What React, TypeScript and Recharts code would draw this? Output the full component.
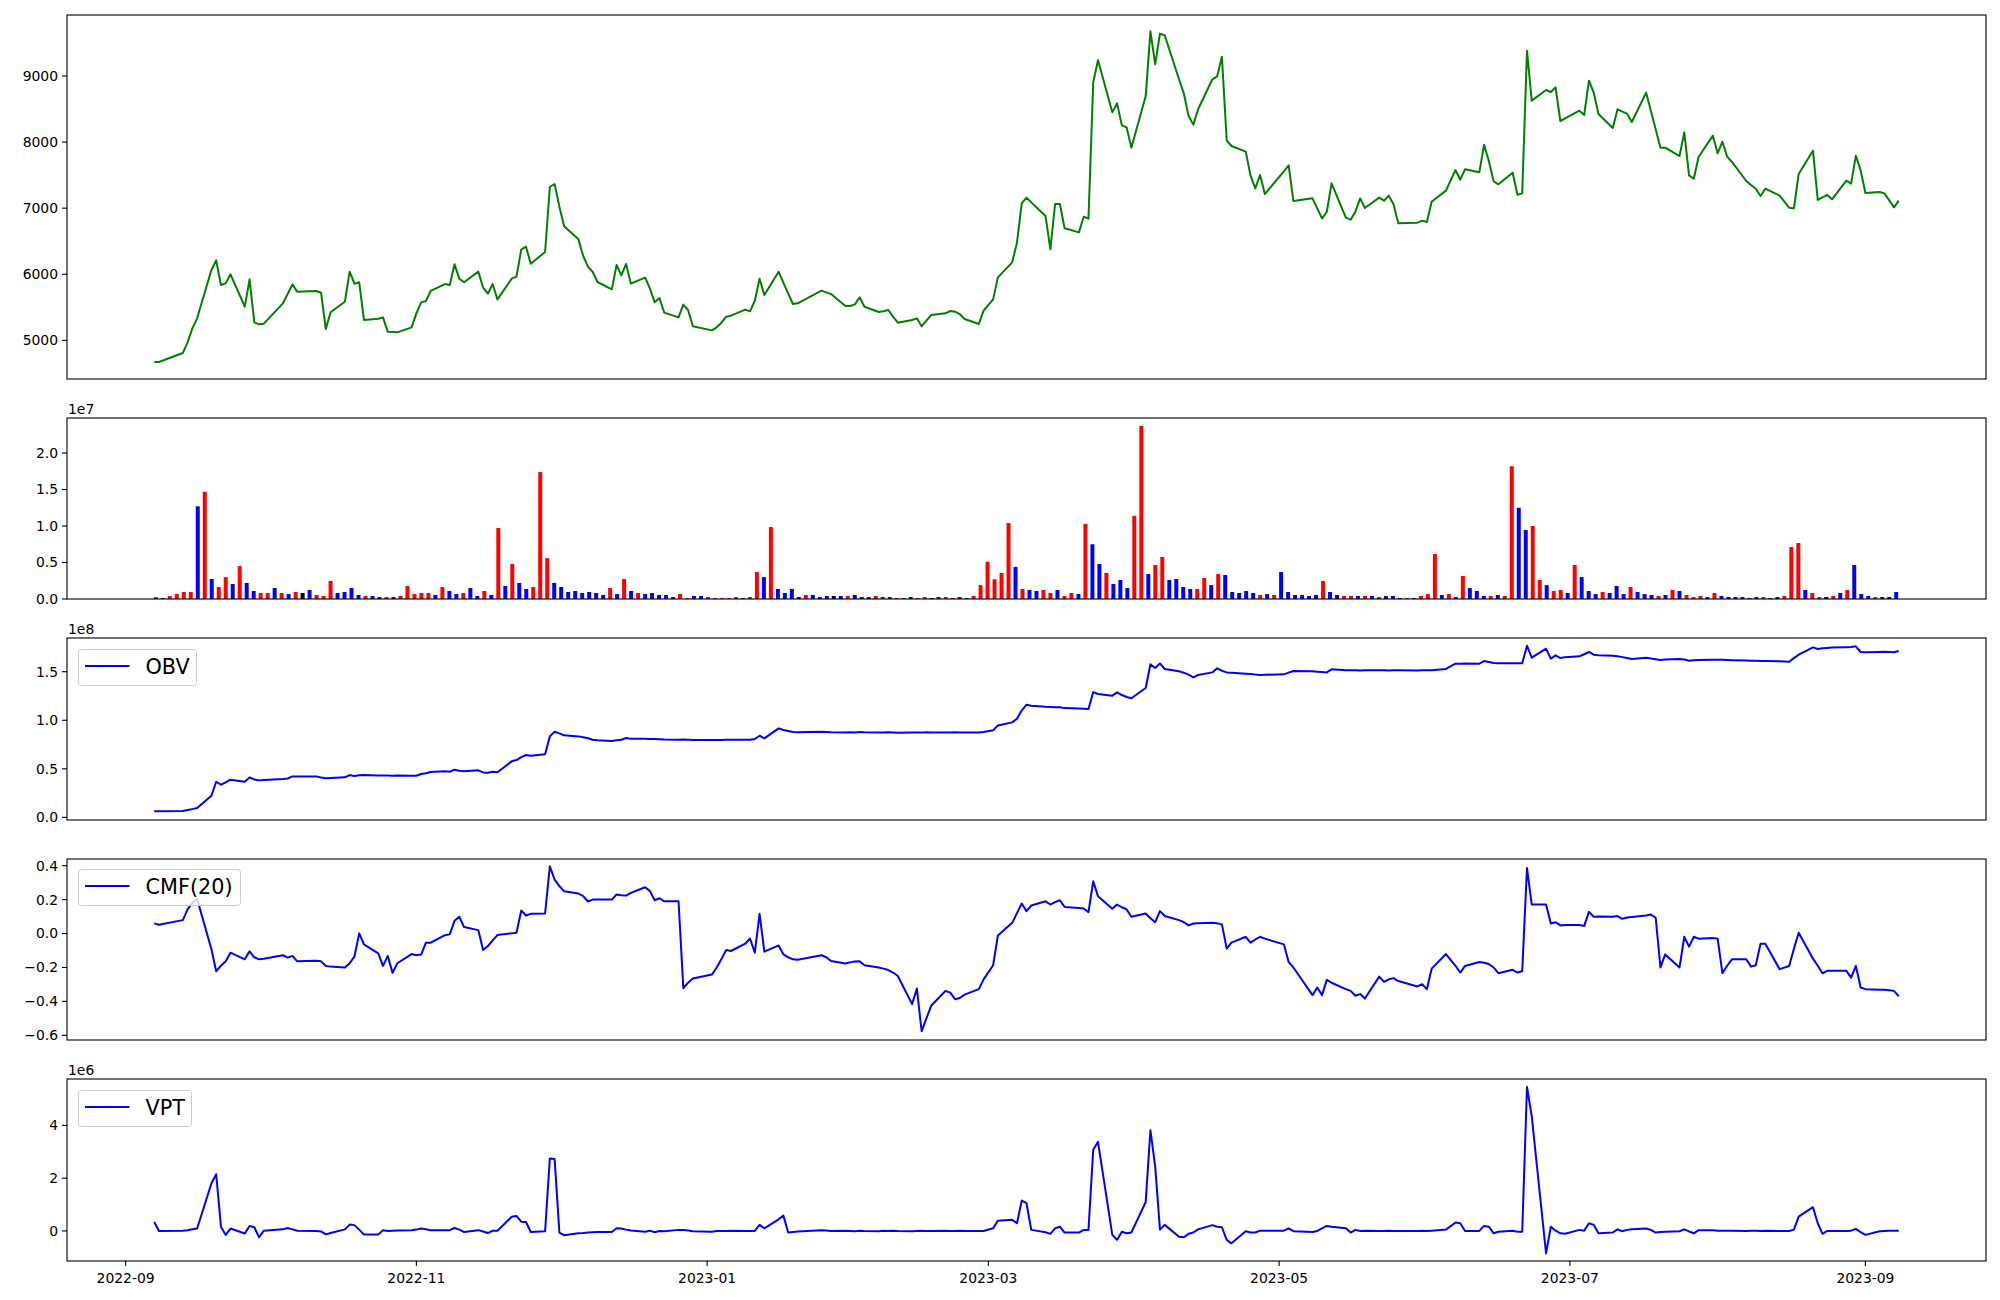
import React from 'react';
import { LineChart, Line, BarChart, Bar, Cell, XAxis, YAxis } from 'recharts';

// KRX trading calendar for the period shown
const START = '2022-09-07';
const END = '2023-09-08';
const HOLIDAYS = [
  '2022-09-09', '2022-09-12', '2022-10-03', '2022-10-10', '2022-12-30',
  '2023-01-23', '2023-01-24', '2023-03-01', '2023-05-01', '2023-05-05',
  '2023-05-29', '2023-06-06', '2023-08-15',
];

const price = [
  4672, 4672, 4808, 4970, 5182, 5333, 6064, 6210, 5837, 5862,
  5999, 5509, 5923, 5272, 5242, 5252, 5560, 5700, 5847, 5736,
  5747, 5721, 5171, 5424, 5585, 6039, 5857, 5878, 5308, 5328,
  5348, 5131, 5126, 5121, 5197, 5409, 5575, 5595, 5747, 5852,
  5837, 6150, 5933, 5878, 6039, 5797, 5706, 5852, 5620, 5933,
  5963, 6372, 6417, 6160, 6337, 7320, 7366, 7023, 6725, 6528,
  6276, 6115, 6034, 5883, 5772, 6140, 5984, 6155, 5858, 5948,
  5782, 5575, 5641, 5419, 5348, 5540, 5459, 5212, 5151, 5197,
  5267, 5358, 5373, 5464, 5439, 5600, 5933, 5686, 6039, 5870,
  5710, 5550, 5560, 5752, 5726, 5700, 5520, 5520, 5545, 5651,
  5509, 5429, 5439, 5459, 5358, 5267, 5308, 5333, 5212, 5298,
  5383, 5409, 5444, 5434, 5398, 5323, 5247, 5449, 5620, 5953,
  6180, 6478, 7073, 7159, 7088, 6881, 6377, 7063, 7063, 6695,
  6634, 6871, 6841, 8904, 9237, 8450, 8586, 8253, 8223, 7915,
  8692, 9676, 9176, 9640, 9615, 8950, 8738, 8395, 8264, 8496,
  8950, 8995, 9292, 8026, 7941, 7855, 7492, 7300, 7502, 7214,
  7557, 7648, 7108, 7149, 6997, 6846, 6942, 7376, 6856, 6826,
  6947, 7149, 7002, 7159, 7113, 7189, 7058, 6770, 6781, 6811,
  6791, 7098, 7265, 7577, 7431, 7588, 7542, 7961, 7714, 7406,
  7361, 7537, 7204, 7224, 9383, 8627, 8788, 8758, 8829, 8319,
  8359, 8475, 8410, 8929, 8748, 8425, 8213, 8496, 8460, 8430,
  8304, 8748, 8470, 8193, 7915, 7915, 7789, 8147, 7497, 7446,
  7774, 8097, 7830, 8006, 7779, 7699, 7411, 7351, 7295, 7184,
  7295, 7189, 7008, 6997, 7517, 7870, 7124, 7164, 7199, 7134,
  7416, 7371, 7794, 7572, 7229, 7245, 7224, 7118, 7013, 7113,
];

// volume in millions of shares
const volume = [
  0.23, 0.14, 0.4, 0.7, 0.96, 0.96, 12.7, 14.7, 2.74, 1.64,
  3.0, 2.05, 4.5, 2.2, 1.1, 0.82, 0.82, 1.5, 0.82, 0.68,
  0.96, 0.82, 1.23, 0.55, 0.41, 2.47, 0.82, 0.96, 1.5, 0.55,
  0.41, 0.41, 0.27, 0.27, 0.27, 0.41, 1.78, 0.68, 0.82, 0.82,
  0.55, 1.64, 1.1, 0.68, 0.82, 1.5, 0.41, 1.1, 0.55, 9.73,
  1.78, 4.8, 2.2, 1.37, 1.64, 17.4, 5.6, 2.2, 1.64, 0.96,
  1.1, 0.82, 0.96, 0.82, 0.55, 1.5, 0.68, 2.74, 1.1, 0.82,
  0.68, 0.82, 0.55, 0.55, 0.27, 0.68, 0.14, 0.41, 0.41, 0.27,
  0.14, 0.14, 0.14, 0.27, 0.14, 0.27, 3.7, 3.0, 9.86, 1.37,
  0.82, 1.37, 0.27, 0.55, 0.55, 0.27, 0.41, 0.41, 0.41, 0.41,
  0.55, 0.27, 0.27, 0.41, 0.27, 0.27, 0.14, 0.14, 0.27, 0.14,
  0.27, 0.14, 0.27, 0.27, 0.14, 0.27, 0.14, 0.41, 1.9, 5.1,
  2.7, 3.56, 10.4, 4.4, 1.37, 1.23, 1.1, 1.23, 0.82, 1.23,
  0.41, 0.82, 0.68, 10.3, 7.5, 4.8, 3.56, 2.05, 2.6, 1.5,
  11.4, 23.7, 3.42, 4.66, 5.75, 2.6, 2.74, 1.64, 1.37, 1.37,
  2.88, 1.9, 3.42, 3.29, 0.96, 0.82, 1.1, 0.82, 0.55, 0.68,
  0.55, 3.7, 0.96, 0.55, 0.55, 0.41, 0.55, 2.47, 0.96, 0.55,
  0.41, 0.41, 0.41, 0.41, 0.41, 0.27, 0.41, 0.41, 0.14, 0.14,
  0.14, 0.41, 0.68, 6.16, 0.55, 0.68, 0.27, 3.15, 1.5, 1.1,
  0.41, 0.41, 0.55, 0.41, 18.2, 12.5, 9.45, 10.0, 2.6, 1.9,
  1.1, 1.23, 0.82, 4.66, 3.0, 1.1, 0.68, 0.96, 0.82, 1.78,
  0.68, 1.64, 0.96, 0.68, 0.55, 0.41, 0.55, 1.23, 1.1, 0.55,
  0.27, 0.41, 0.27, 0.82, 0.41, 0.27, 0.27, 0.27, 0.14, 0.27,
  0.27, 0.14, 0.27, 0.41, 7.12, 7.67, 1.23, 0.82, 0.27, 0.27,
  0.41, 0.82, 1.23, 4.66, 0.68, 0.41, 0.27, 0.27, 0.27, 0.96,
];

// r = up day, b = down day, k = unchanged
const volColors = [
  'bbrrrrbrbr', 'rbrbbrrbrb', 'rkbrrrbbbb', 'rbbrbrrrrr', 'brbbrbbrbr',
  'brbbrrrbbb', 'bbbbbrbrbr', 'bbbbbrrbbr', 'rrrrbrrbrb', 'bbbrbbbkbr',
  'bbbrbbrbbr', 'rkbrbbbrrr', 'rrrbrbbrrb', 'rrbrbbrbbb', 'rrbrrbbbbr',
  'rbrbbbbbrb', 'rbbbbbbrbb', 'rrbrbrbbbr', 'brrrbrbrbb', 'brbrrbbrrb',
  'rrbrbbbrbb', 'brbbbrbrbr', 'rrbrbbbbbb', 'rbbrrrbrrk', 'rbrbbbrbbb',
].join('');

// on-balance volume, 1e8
const obv = [
  0.062, 0.063, 0.065, 0.075, 0.085, 0.096, 0.223, 0.367, 0.336, 0.36,
  0.388, 0.367, 0.412, 0.39, 0.381, 0.385, 0.395, 0.40, 0.422, 0.42,
  0.422, 0.41, 0.402, 0.405, 0.412, 0.436, 0.425, 0.433, 0.436, 0.43,
  0.432, 0.43, 0.428, 0.43, 0.428, 0.429, 0.447, 0.454, 0.467, 0.475,
  0.47, 0.491, 0.48, 0.474, 0.484, 0.463, 0.459, 0.47, 0.465, 0.577,
  0.59, 0.62, 0.642, 0.635, 0.649, 0.834, 0.882, 0.865, 0.845, 0.834,
  0.825, 0.815, 0.80, 0.795, 0.786, 0.795, 0.80, 0.817, 0.81, 0.81,
  0.808, 0.807, 0.805, 0.802, 0.80, 0.802, 0.80, 0.798, 0.796, 0.797,
  0.798, 0.80, 0.80, 0.80, 0.80, 0.807, 0.841, 0.814, 0.917, 0.90,
  0.89, 0.879, 0.876, 0.882, 0.88, 0.877, 0.875, 0.876, 0.874, 0.878,
  0.876, 0.874, 0.873, 0.876, 0.874, 0.872, 0.874, 0.873, 0.875, 0.876,
  0.874, 0.875, 0.873, 0.876, 0.875, 0.873, 0.875, 0.879, 0.896, 0.947,
  0.978, 1.016, 1.10, 1.16, 1.15, 1.138, 1.136, 1.135, 1.133, 1.125,
  1.12, 1.119, 1.115, 1.29, 1.27, 1.253, 1.287, 1.26, 1.24, 1.226,
  1.332, 1.576, 1.538, 1.586, 1.528, 1.504, 1.49, 1.47, 1.442, 1.466,
  1.493, 1.535, 1.51, 1.493, 1.49, 1.48, 1.476, 1.47, 1.466, 1.468,
  1.473, 1.49, 1.507, 1.504, 1.50, 1.497, 1.493, 1.524, 1.516, 1.514,
  1.515, 1.513, 1.514, 1.516, 1.514, 1.513, 1.515, 1.514, 1.513, 1.514,
  1.515, 1.514, 1.528, 1.583, 1.583, 1.585, 1.583, 1.61, 1.60, 1.59,
  1.586, 1.588, 1.586, 1.586, 1.768, 1.644, 1.737, 1.634, 1.668, 1.641,
  1.65, 1.658, 1.68, 1.703, 1.675, 1.67, 1.665, 1.66, 1.65, 1.64,
  1.631, 1.644, 1.635, 1.628, 1.62, 1.625, 1.631, 1.625, 1.613, 1.618,
  1.62, 1.624, 1.624, 1.622, 1.62, 1.618, 1.615, 1.613, 1.612, 1.61,
  1.61, 1.607, 1.603, 1.64, 1.675, 1.751, 1.734, 1.742, 1.745, 1.748,
  1.752, 1.754, 1.761, 1.703, 1.70, 1.703, 1.705, 1.703, 1.70, 1.713,
];

const cmf = [
  0.06, 0.052, 0.079, 0.142, 0.181, 0.204, -0.093, -0.222, -0.19, -0.164,
  -0.113, -0.152, -0.105, -0.14, -0.152, -0.148, -0.128, -0.142, -0.132, -0.164,
  -0.16, -0.164, -0.191, -0.195, -0.20, -0.175, -0.136, 0.001, -0.064, -0.117,
  -0.191, -0.132, -0.232, -0.175, -0.121, -0.128, -0.124, -0.054, -0.054, -0.01,
  -0.005, 0.075, 0.099, 0.038, 0.02, -0.097, -0.074, -0.04, -0.009, 0.001,
  0.005, 0.136, 0.106, 0.116, 0.118, 0.396, 0.318, 0.28, 0.249, 0.236,
  0.22, 0.189, 0.20, 0.20, 0.20, 0.23, 0.226, 0.224, 0.24, 0.273,
  0.25, 0.196, 0.208, 0.19, 0.19, -0.322, -0.29, -0.265, -0.242, -0.2,
  -0.15, -0.097, -0.103, -0.06, -0.029, -0.113, 0.116, -0.107, -0.07, -0.123,
  -0.14, -0.152, -0.155, -0.128, -0.14, -0.162, -0.177, -0.17, -0.165, -0.164,
  -0.187, -0.2, -0.207, -0.215, -0.23, -0.25, -0.416, -0.324, -0.576, -0.5,
  -0.426, -0.338, -0.348, -0.387, -0.38, -0.36, -0.328, -0.27, -0.187, -0.011,
  0.063, 0.12, 0.177, 0.132, 0.165, 0.19, 0.171, 0.185, 0.196, 0.157,
  0.15, 0.148, 0.126, 0.308, 0.22, 0.146, 0.171, 0.155, 0.142, 0.099,
  0.118, 0.09, 0.067, 0.132, 0.103, 0.079, 0.067, 0.048, 0.059, 0.06,
  0.063, 0.06, 0.054, -0.089, -0.054, -0.019, -0.054, -0.035, -0.019, -0.03,
  -0.064, -0.168, -0.2, -0.363, -0.318, -0.363, -0.273, -0.29, -0.328, -0.338,
  -0.367, -0.357, -0.383, -0.254, -0.285, -0.27, -0.263, -0.28, -0.312, -0.299,
  -0.328, -0.207, -0.121, -0.19, -0.23, -0.191, -0.168, -0.172, -0.18, -0.2,
  -0.234, -0.214, -0.23, -0.222, 0.386, 0.171, 0.171, 0.059, 0.067, 0.048,
  0.05, 0.05, 0.045, 0.128, 0.099, 0.1, 0.099, 0.103, 0.087, 0.095,
  0.098, 0.106, 0.112, 0.093, -0.20, -0.123, -0.20, -0.019, -0.077, -0.019,
  -0.03, -0.027, -0.03, -0.234, -0.19, -0.152, -0.152, -0.195, -0.187, -0.06,
  -0.06, -0.21, -0.191, -0.09, 0.005, -0.148, -0.19, -0.234, -0.22, -0.22,
  -0.22, -0.26, -0.191, -0.318, -0.328, -0.332, -0.332, -0.335, -0.338, -0.371,
];

// volume price trend, 1e6
const vpt = [
  0.34, 0.0, 0.01, 0.03, 0.06, 0.09, 1.81, 2.15, 0.16, -0.15,
  0.09, -0.1, 0.19, 0.14, -0.24, 0.01, 0.06, 0.11, 0.06, 0.01,
  0.0, -0.02, -0.13, -0.08, 0.06, 0.24, 0.22, 0.05, -0.14, -0.14,
  0.03, 0.0, 0.01, 0.02, 0.03, 0.05, 0.09, 0.06, 0.03, 0.03,
  0.03, 0.11, 0.05, -0.04, 0.03, -0.02, -0.08, 0.01, 0.01, 0.54,
  0.57, 0.35, 0.34, -0.04, -0.01, 2.75, 2.73, -0.06, -0.16, -0.09,
  -0.08, -0.06, -0.05, -0.04, -0.04, 0.1, 0.09, 0.05, 0.02, -0.03,
  0.01, -0.05, 0.0, -0.01, 0.04, 0.04, 0.02, -0.01, -0.03, 0.0,
  0.0, 0.0, 0.01, 0.0, 0.0, 0.0, 0.23, 0.1, 0.44, 0.58,
  -0.06, -0.04, -0.02, 0.03, 0.02, 0.0, 0.01, 0.0, -0.01, 0.01,
  0.0, -0.01, 0.01, 0.0, 0.01, 0.0, -0.01, 0.0, 0.01, 0.0,
  0.0, 0.01, 0.0, 0.0, 0.01, 0.0, 0.0, 0.0, 0.1, 0.39,
  0.42, 0.29, 1.15, 1.05, 0.04, -0.05, -0.11, 0.1, 0.16, -0.06,
  -0.06, 0.04, 0.04, 3.08, 3.38, -0.15, -0.34, -0.03, -0.09, -0.06,
  1.09, 3.82, 2.44, 0.05, 0.23, -0.22, -0.24, -0.11, -0.06, 0.06,
  0.22, 0.16, 0.14, -0.34, -0.47, -0.01, -0.06, -0.06, 0.01, 0.01,
  0.01, 0.1, -0.01, -0.04, 0.0, 0.1, 0.19, 0.16, 0.1, -0.06,
  0.04, 0.0, 0.01, 0.0, 0.0, 0.01, 0.0, 0.0, 0.0, 0.01,
  0.0, 0.01, 0.05, 0.32, 0.29, 0.0, 0.0, 0.19, 0.16, -0.09,
  -0.03, 0.01, -0.03, -0.03, 5.46, 4.34, -0.85, 0.16, 0.01, -0.09,
  -0.11, 0.04, 0.01, 0.29, 0.23, -0.09, -0.06, 0.06, -0.01, 0.04,
  0.06, 0.09, 0.04, -0.06, -0.04, -0.03, -0.01, 0.06, -0.02, -0.09,
  0.03, 0.03, 0.01, 0.01, 0.01, 0.01, 0.0, 0.01, 0.01, 0.0,
  0.01, 0.0, 0.0, 0.05, 0.54, 0.9, 0.29, -0.11, 0.0, 0.0,
  0.0, 0.01, 0.08, -0.05, -0.15, -0.01, 0.0, 0.01, 0.01, 0.01,
];

const xTickDates = ['2022-09-01', '2022-11-01', '2023-01-01', '2023-03-01', '2023-05-01', '2023-07-01', '2023-09-01'];
const priceTicks = [5000, 6000, 7000, 8000, 9000];
const volTicks = [0, 5, 10, 15, 20];
const obvTicks = [0, 0.5, 1, 1.5];
const cmfTicks = [-0.6, -0.4, -0.2, 0, 0.2, 0.4];
const vptTicks = [0, 2, 4];

const DAY = 86400000;
const toT = (s: string) => (Date.parse(s) - Date.parse(START)) / DAY;

const tradingDays: string[] = [];
for (let ms = Date.parse(START); ms <= Date.parse(END); ms += DAY) {
  const d = new Date(ms);
  const iso = d.toISOString().slice(0, 10);
  const wd = d.getUTCDay();
  if (wd === 0 || wd === 6 || HOLIDAYS.includes(iso)) continue;
  tradingDays.push(iso);
}

const rows = tradingDays.map((date, i) => ({
  i,
  t: toT(date),
  price: price[i],
  vol: volume[i],
  obv: obv[i],
  cmf: cmf[i],
  vpt: vpt[i],
}));

const VOL_FILL: Record<string, string> = { r: '#ff0000', b: '#0000ff', k: '#000000' };
const FONT = 'DejaVu Sans';
const tickStyle = { fill: '#000', fontSize: 13.9, fontFamily: FONT };
const T_SPAN = toT(END);
const X_DOMAIN = [-0.05 * T_SPAN, 1.05 * T_SPAN];
const N = tradingDays.length;
const I_DOMAIN = [-0.3 - 0.05 * (N - 0.4), N - 0.7 + 0.05 * (N - 0.4)];
const minus = (v: number, digits: number) => (v < 0 ? '\u2212' : '') + Math.abs(v).toFixed(digits);
const fmtMonth = (t: number) => new Date(Date.parse(START) + t * DAY).toISOString().slice(0, 7);

const yAxisProps = {
  width: 67,
  axisLine: false,
  tickLine: { stroke: '#000', strokeWidth: 1.1 },
  tickSize: 5,
  tickMargin: 4,
  tick: tickStyle,
  interval: 0 as const,
  allowDataOverflow: true,
  type: 'number' as const,
};

const lineProps = {
  dot: false,
  type: 'linear' as const,
  strokeWidth: 2,
  strokeLinejoin: 'round' as const,
  isAnimationActive: false,
};

const frames = [
  { top: 15, h: 364 },
  { top: 418, h: 181 },
  { top: 638, h: 182 },
  { top: 859, h: 181 },
  { top: 1079, h: 182 },
];

const offsets = [
  { text: '1e7', y: 413.5 },
  { text: '1e8', y: 634 },
  { text: '1e6', y: 1074.5 },
];

const legends = [
  { label: 'OBV', top: 649, width: 118 },
  { label: 'CMF(20)', top: 869, width: 162 },
  { label: 'VPT', top: 1090, width: 113 },
];

const at = (top: number): React.CSSProperties => ({ position: 'absolute', left: 0, top });

export default function App() {
  return (
    <div style={{ position: 'absolute', left: 0, top: 0, width: 2000, height: 1300, background: '#fff', fontFamily: FONT }}>
      <div style={at(0)}>
        <LineChart width={2000} height={390} data={rows} margin={{ top: 15, right: 14, bottom: 11, left: 0 }}>
          <XAxis type='number' dataKey='t' domain={X_DOMAIN} hide allowDataOverflow />
          <YAxis {...yAxisProps} domain={[4415, 9923]} ticks={priceTicks} />
          <Line {...lineProps} dataKey='price' stroke='#008000' />
        </LineChart>
      </div>

      <div style={at(400)}>
        <BarChart width={2000} height={210} data={rows} margin={{ top: 18, right: 14, bottom: 11, left: 0 }}>
          <XAxis type='number' dataKey='i' domain={I_DOMAIN} hide allowDataOverflow />
          <YAxis {...yAxisProps} domain={[0, 24.8]} ticks={volTicks} tickFormatter={(v: number) => (v / 10).toFixed(1)} />
          <Bar dataKey='vol' barSize={4} isAnimationActive={false}>
            {rows.map((r) => (
              <Cell key={r.i} fill={VOL_FILL[volColors[r.i]]} />
            ))}
          </Bar>
        </BarChart>
      </div>

      <div style={at(620)}>
        <LineChart width={2000} height={210} data={rows} margin={{ top: 18, right: 14, bottom: 10, left: 0 }}>
          <XAxis type='number' dataKey='t' domain={X_DOMAIN} hide allowDataOverflow />
          <YAxis {...yAxisProps} domain={[-0.027, 1.847]} ticks={obvTicks} tickFormatter={(v: number) => v.toFixed(1)} />
          <Line {...lineProps} dataKey='obv' stroke='#0000ff' />
        </LineChart>
      </div>

      <div style={at(840)}>
        <LineChart width={2000} height={210} data={rows} margin={{ top: 19, right: 14, bottom: 10, left: 0 }}>
          <XAxis type='number' dataKey='t' domain={X_DOMAIN} hide allowDataOverflow />
          <YAxis {...yAxisProps} domain={[-0.6276, 0.4394]} ticks={cmfTicks} tickFormatter={(v: number) => minus(v, 1)} />
          <Line {...lineProps} dataKey='cmf' stroke='#0000ff' />
        </LineChart>
      </div>

      <div style={at(1060)}>
        <LineChart width={2000} height={240} data={rows} margin={{ top: 19, right: 14, bottom: 0, left: 0 }}>
          <XAxis
            type='number'
            dataKey='t'
            domain={X_DOMAIN}
            ticks={xTickDates.map(toT)}
            tickFormatter={fmtMonth}
            height={39}
            axisLine={false}
            tickLine={{ stroke: '#000', strokeWidth: 1.1 }}
            tickSize={5}
            tickMargin={7}
            tick={tickStyle}
            interval={0}
            allowDataOverflow
          />
          <YAxis {...yAxisProps} domain={[-1.14, 5.76]} ticks={vptTicks} tickFormatter={(v: number) => minus(v, 0)} />
          <Line {...lineProps} dataKey='vpt' stroke='#0000ff' />
        </LineChart>
      </div>

      <svg width={2000} height={1300} style={{ position: 'absolute', left: 0, top: 0, pointerEvents: 'none' }}>
        {frames.map((f) => (
          <rect key={f.top} x={67} y={f.top} width={1919} height={f.h} fill='none' stroke='#000' strokeWidth={1.1} />
        ))}
        {offsets.map((o) => (
          <text key={o.text} x={68} y={o.y} fontSize={13.9} fontFamily={FONT} fill='#000'>{o.text}</text>
        ))}
        {legends.map((l) => (
          <g key={l.label} transform={`translate(78.5, ${l.top + 0.5})`}>
            <rect width={l.width} height={36} rx={3} fill='#fff' fillOpacity={0.8} stroke='#cccccc' />
            <line x1={6.5} x2={51} y1={16.5} y2={16.5} stroke='#0000ff' strokeWidth={2} />
            <text x={67} y={24} fontSize={20.8} fontFamily={FONT} fill='#000'>{l.label}</text>
          </g>
        ))}
      </svg>
    </div>
  );
}
